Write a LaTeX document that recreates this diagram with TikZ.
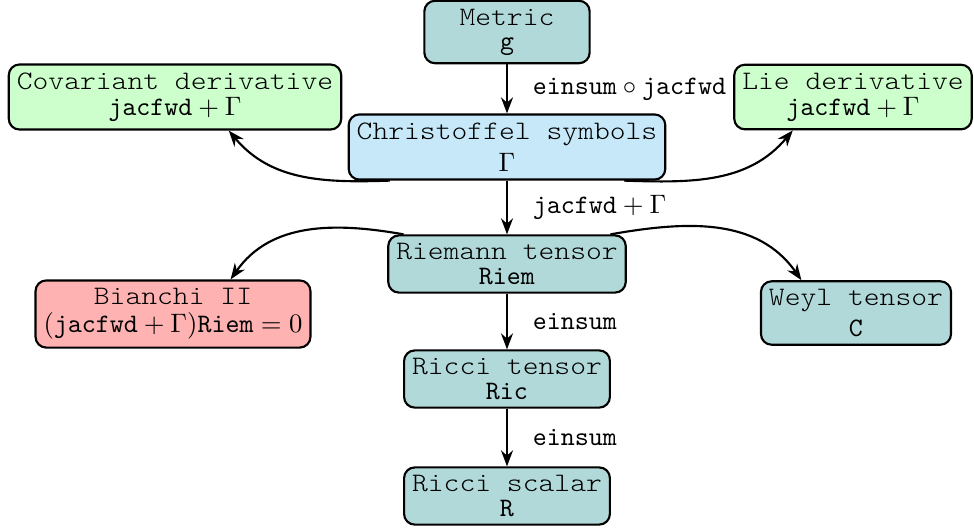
\documentclass[tikz,border=0pt]{standalone}
\usetikzlibrary{arrows.meta}
\newcommand\boxtitle[1]{\scalebox{1.13}[1]{\fontseries{l}\ttfamily\selectfont #1}}
\definecolor{tealbox}{rgb}{0.70,0.85,0.85}
\definecolor{bluebox}{RGB}{198,232,248}
\definecolor{greenbox}{rgb}{0.8,1,0.8}
\definecolor{redbox}{rgb}{1,0.7,0.7}

\begin{document}
\begin{tikzpicture}[x=0.375pt,y=-0.375pt,
    box/.style={draw,thick,rounded corners=4pt,align=center,inner xsep=3pt,
      inner ysep=3pt,minimum width=62pt,
      font={\fontsize{10}{9}\selectfont\lineskiplimit=3pt\lineskip=3pt}},
    lbl/.style={right,xshift=6pt,font=\ttfamily},
    >={Stealth[length=6pt,width=4.5pt]}]
  \useasboundingbox (0,0) rectangle (974,527);
  % nodes
  \node[box,fill=tealbox] (metric) at (507,32) {\boxtitle{Metric}\\\texttt{g}};
  \node[box,fill=bluebox] (chris) at (507,147) {\boxtitle{Christoffel symbols}\\$\Gamma$};
  \node[box,fill=greenbox] (cov) at (175,97) {\boxtitle{Covariant derivative}\\$\mathtt{jacfwd}+\Gamma$};
  \node[box,fill=greenbox] (lie) at (853,97) {\boxtitle{Lie derivative}\\$\mathtt{jacfwd}+\Gamma$};
  \node[box,fill=tealbox] (riem) at (507,264) {\boxtitle{Riemann tensor}\\\texttt{Riem}};
  \node[box,fill=redbox] (bianchi) at (173,314) {\boxtitle{Bianchi II}\\$(\mathtt{jacfwd}+\Gamma)\mathtt{Riem}=0$};
  \node[box,fill=tealbox] (weyl) at (856,313) {\boxtitle{Weyl tensor}\\\texttt{C}};
  \node[box,fill=tealbox] (ricci) at (507,379) {\boxtitle{Ricci tensor}\\\texttt{Ric}};
  \node[box,fill=tealbox] (scalar) at (507,496) {\boxtitle{Ricci scalar}\\\texttt{R}};
  % straight arrows
  \draw[->,thick] (metric) -- (chris) node[lbl,midway] {$\mathtt{einsum}\circ\mathtt{jacfwd}$};
  \draw[->,thick] (chris) -- (riem) node[lbl,midway] {$\mathtt{jacfwd}+\Gamma$};
  \draw[->,thick] (riem) -- (ricci) node[lbl,midway] {einsum};
  \draw[->,thick] (ricci) -- (scalar) node[lbl,midway] {einsum};
  % curved arrows
  \draw[->,thick] (chris.196) to[out=182,in=-50] (cov.-32);
  \draw[->,thick] (chris.-16) to[out=-2,in=-130] (lie.209);
  \draw[->,thick] (riem.164) to[out=170,in=55] (bianchi.31);
  \draw[->,thick] (riem.16) to[out=10,in=125] (weyl.149);
\end{tikzpicture}
\end{document}
